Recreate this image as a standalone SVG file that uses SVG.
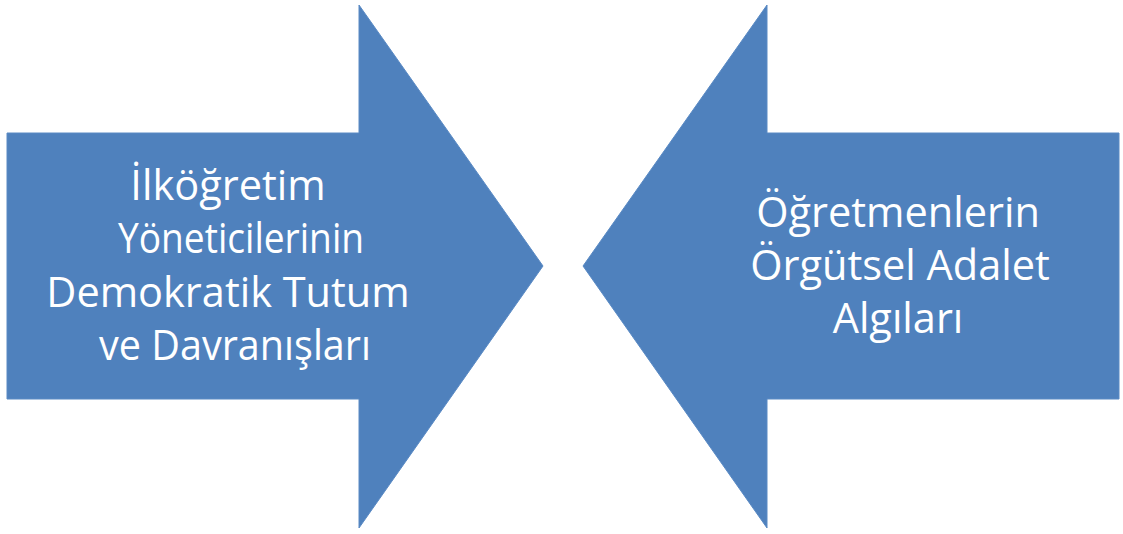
<svg xmlns="http://www.w3.org/2000/svg" width="1123" height="534" viewBox="0 0 1123 534">
<style>
.arrow{fill:#4F81BD;stroke:#5A8AC4;stroke-width:1}
.lbl{font-family:"Open Sans","Liberation Sans",sans-serif;font-size:41.5px;fill:#FFFFFF;text-anchor:middle}
</style>
<rect width="1123" height="534" fill="#FFFFFF"/>
<g id="left-arrow">
<polygon class="arrow" points="7,133 359,133 359,5 543,266 359,528 359,399 7,399"/>
<text class="lbl" x="228" y="200">İlköğretim</text>
<text class="lbl" x="241" y="253" textLength="246" lengthAdjust="spacingAndGlyphs">Yöneticilerinin</text>
<text class="lbl" x="228" y="307">Demokratik Tutum</text>
<text class="lbl" x="235" y="360" textLength="272" lengthAdjust="spacingAndGlyphs">ve Davranışları</text>
</g>
<g id="right-arrow">
<polygon class="arrow" points="1119,133 767,133 767,5 583,266 767,528 767,399 1119,399"/>
<text class="lbl" x="898" y="227">Öğretmenlerin</text>
<text class="lbl" x="900" y="280">Örgütsel Adalet</text>
<text class="lbl" x="898" y="333">Algıları</text>
</g>
<g id="connectors"></g>
</svg>
